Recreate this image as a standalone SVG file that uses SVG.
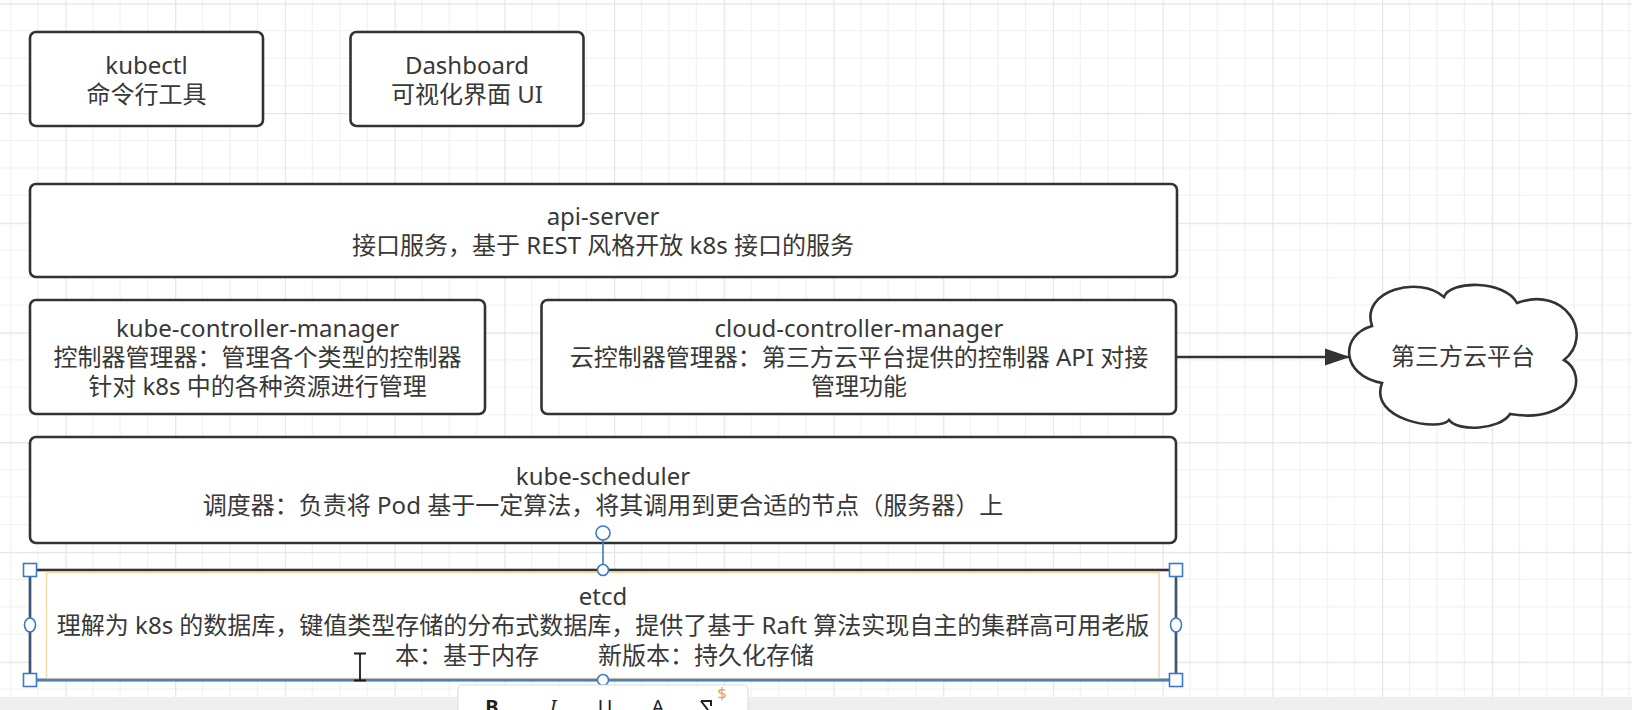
<svg xmlns="http://www.w3.org/2000/svg" width="1632" height="710" viewBox="0 0 1632 710">
<style>
.box{fill:#fff;stroke:#333;stroke-width:2.6}
.t{font-family:"Noto Sans","Noto Sans CJK SC",sans-serif;font-size:24px;fill:#383838;text-anchor:middle}
.h{fill:#fff;stroke:#3b78c6;stroke-width:1.6}
.tb{font-family:"Noto Sans","Liberation Sans",sans-serif;font-size:20px;fill:#222;text-anchor:middle}
</style>
<defs>
<pattern id="grid" x="65.4" y="3.3" width="109.72" height="109.72" patternUnits="userSpaceOnUse">
<path d="M27.43 0V109.72M54.86 0V109.72M82.29 0V109.72M0 27.43H109.72M0 54.86H109.72M0 82.29H109.72" stroke="#f0f0f0" stroke-width="1.2" fill="none"/>
<path d="M0.6 0V109.72M0 0.6H109.72" stroke="#e4e4e4" stroke-width="1.2" fill="none"/>
</pattern>
<marker id="arrow" markerUnits="userSpaceOnUse" markerWidth="26" markerHeight="18" refX="25" refY="9" orient="auto">
<path d="M0 0.5L25 9L0 17.5Z" fill="#333"/>
</marker>
</defs>
<rect width="1632" height="710" fill="#fff"/>
<rect width="1632" height="697" fill="url(#grid)"/>
<rect y="697" width="1632" height="13" fill="#efefef"/>

<g id="connectors">
<line x1="1177" y1="357" x2="1350" y2="357" stroke="#333" stroke-width="2.6" marker-end="url(#arrow)"/>
</g>

<g id="node-kubectl">
<rect class="box" x="30" y="32" width="233" height="94" rx="6"/>
<text class="t"><tspan x="146.5" y="74">kubectl</tspan><tspan x="146.5" y="103">命令行工具</tspan></text>
</g>

<g id="node-dashboard">
<rect class="box" x="350.5" y="32" width="233" height="94" rx="6"/>
<text class="t"><tspan x="467" y="74">Dashboard</tspan><tspan x="467" y="103">可视化界面 UI</tspan></text>
</g>

<g id="node-api-server">
<rect class="box" x="30" y="184" width="1147" height="93" rx="6"/>
<text class="t"><tspan x="603" y="225">api-server</tspan><tspan x="603" y="254">接口服务，基于 REST 风格开放 k8s 接口的服务</tspan></text>
</g>

<g id="node-kube-controller-manager">
<rect class="box" x="30" y="300" width="455" height="114" rx="6"/>
<text class="t"><tspan x="257.5" y="337">kube-controller-manager</tspan><tspan x="257.5" y="366">控制器管理器：管理各个类型的控制器</tspan><tspan x="257.5" y="395">针对 k8s 中的各种资源进行管理</tspan></text>
</g>

<g id="node-cloud-controller-manager">
<rect class="box" x="541.5" y="300" width="634.5" height="114" rx="6"/>
<text class="t"><tspan x="859" y="337">cloud-controller-manager</tspan><tspan x="859" y="366">云控制器管理器：第三方云平台提供的控制器 API 对接</tspan><tspan x="859" y="395">管理功能</tspan></text>
</g>

<g id="node-cloud">
<path class="box" d="M1382 383C1340 375 1340 335 1372 326C1360 290 1420 275 1444 297C1450 280 1505 280 1517 303C1565 285 1595 335 1564 360C1590 375 1575 425 1510 414C1500 430 1458 432 1449 420C1440 432 1368 420 1382 383Z"/>
<text class="t" x="1463" y="365">第三方云平台</text>
</g>

<g id="node-kube-scheduler">
<rect class="box" x="30" y="437" width="1146" height="106" rx="6"/>
<text class="t"><tspan x="603" y="485">kube-scheduler</tspan><tspan x="603" y="514">调度器：负责将 Pod 基于一定算法，将其调用到更合适的节点（服务器）上</tspan></text>
</g>

<g id="node-etcd">
<rect class="box" x="30" y="570" width="1146" height="110"/>
<rect x="46.5" y="572.5" width="1112.5" height="106" fill="none" stroke="#f3dba8" stroke-width="1.6"/>
<line x1="30" y1="680" x2="1176" y2="680" stroke="#4a80c2" stroke-width="2.4"/>
<line x1="30" y1="570" x2="30" y2="680" stroke="#3b6fb0" stroke-width="1.2"/>
<line x1="1176" y1="570" x2="1176" y2="680" stroke="#3b6fb0" stroke-width="1.2"/>
<text class="t" xml:space="preserve"><tspan x="603" y="605">etcd</tspan><tspan x="603" y="634">理解为 k8s 的数据库，键值类型存储的分布式数据库，提供了基于 Raft 算法实现自主的集群高可用老版</tspan><tspan x="395" y="664" style="text-anchor:start">本：基于内存         </tspan><tspan x="598" y="664" style="text-anchor:start">新版本：持久化存储</tspan></text>
</g>

<g id="selection-handles">
<line x1="603" y1="540" x2="603" y2="564" stroke="#3b78c6" stroke-width="1.6"/>
<circle class="h" cx="603" cy="533" r="7"/>
<circle class="h" cx="603" cy="570" r="5.5"/>
<circle class="h" cx="603" cy="680" r="5.5"/>
<ellipse class="h" cx="30" cy="625" rx="5.5" ry="7"/>
<ellipse class="h" cx="1176" cy="625" rx="5.5" ry="7"/>
<rect class="h" x="23.5" y="563.5" width="13" height="13"/>
<rect class="h" x="1169.5" y="563.5" width="13" height="13"/>
<rect class="h" x="23.5" y="673.5" width="13" height="13"/>
<rect class="h" x="1169.5" y="673.5" width="13" height="13"/>
<path d="M354 653.5H366M360 653.5V680.5M354 680.5H366" stroke="#1a1a1a" stroke-width="1.8" fill="none"/>
</g>

<g id="text-toolbar">
<rect x="458" y="685" width="290" height="40" rx="4" fill="#fff" stroke="#dedede" stroke-width="1.2"/>
<text class="tb" x="492" y="714" font-weight="bold">B</text>
<text class="tb" x="553" y="714" font-style="italic">I</text>
<text class="tb" x="605" y="714">U</text>
<text class="tb" x="658" y="714">A</text>
<path d="M701 701L711 701L711 706M701 701L708 710" stroke="#222" stroke-width="2" fill="none"/>
<text x="722" y="699" font-family="Noto Sans, Liberation Sans, sans-serif" font-size="16" fill="#e8a33c" text-anchor="middle">$</text>
</g>
</svg>
